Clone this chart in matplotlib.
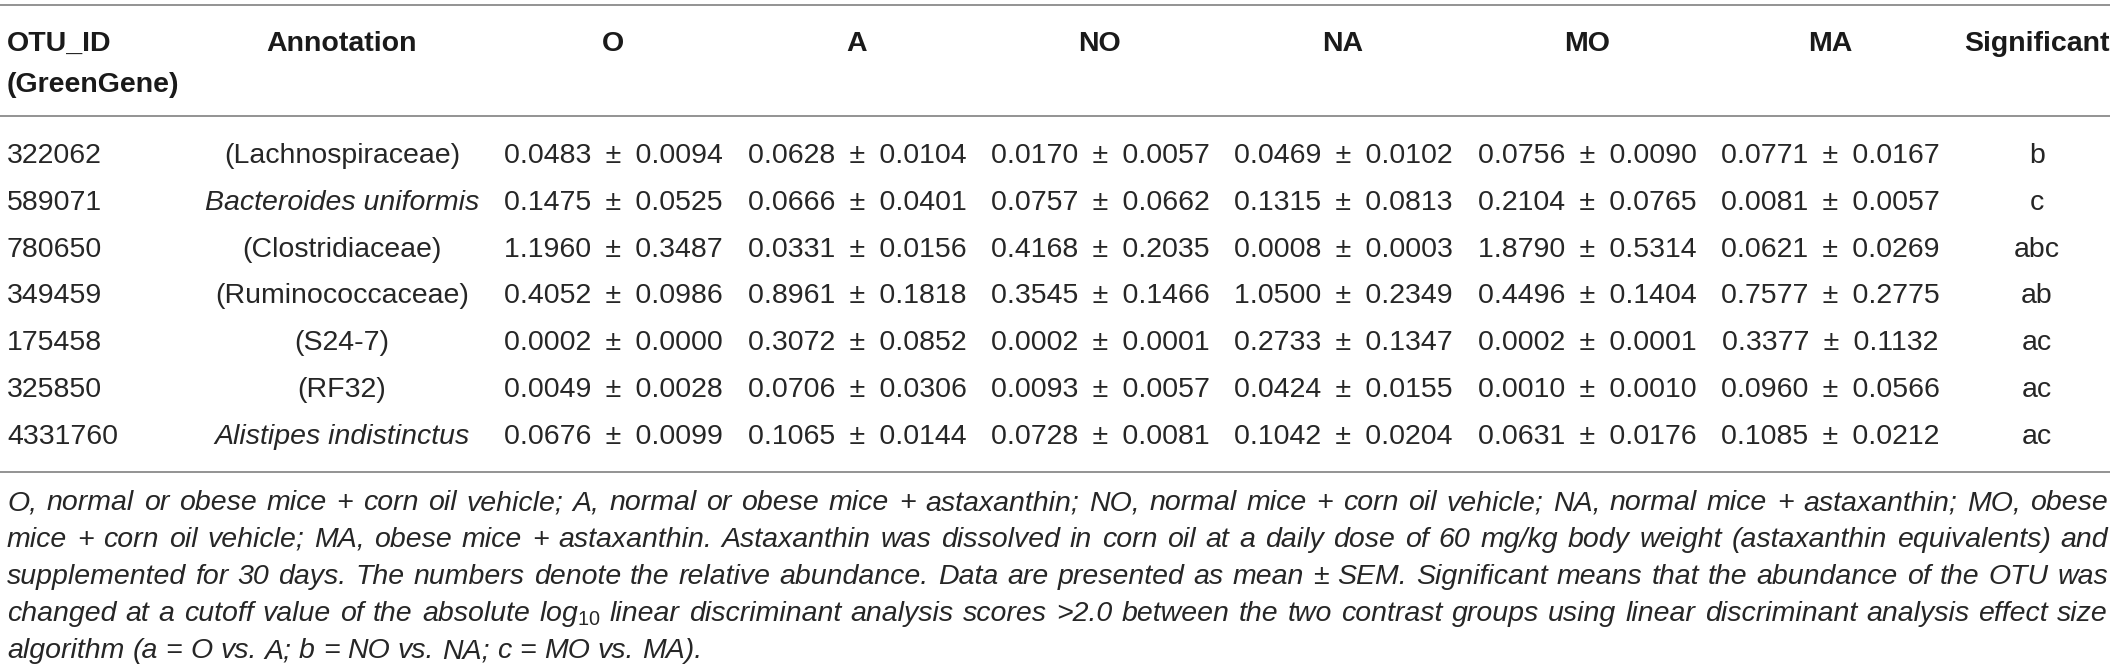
import matplotlib
matplotlib.use('Agg')
import matplotlib.pyplot as plt
from matplotlib.font_manager import FontProperties, findfont

# table data
otu_ids = ['322062', '589071', '780650', '349459', '175458', '325850', '4331760']
annotations = ['(Lachnospiraceae)', 'Bacteroides uniformis', '(Clostridiaceae)',
               '(Ruminococcaceae)', '(S24-7)', '(RF32)', 'Alistipes indistinctus']
annot_italic = [False, True, False, False, False, False, True]
groups = ['O', 'A', 'NO', 'NA', 'MO', 'MA']
o_mean = [0.0483, 0.1475, 1.1960, 0.4052, 0.0002, 0.0049, 0.0676]
o_sem = [0.0094, 0.0525, 0.3487, 0.0986, 0.0000, 0.0028, 0.0099]
a_mean = [0.0628, 0.0666, 0.0331, 0.8961, 0.3072, 0.0706, 0.1065]
a_sem = [0.0104, 0.0401, 0.0156, 0.1818, 0.0852, 0.0306, 0.0144]
no_mean = [0.0170, 0.0757, 0.4168, 0.3545, 0.0002, 0.0093, 0.0728]
no_sem = [0.0057, 0.0662, 0.2035, 0.1466, 0.0001, 0.0057, 0.0081]
na_mean = [0.0469, 0.1315, 0.0008, 1.0500, 0.2733, 0.0424, 0.1042]
na_sem = [0.0102, 0.0813, 0.0003, 0.2349, 0.1347, 0.0155, 0.0204]
mo_mean = [0.0756, 0.2104, 1.8790, 0.4496, 0.0002, 0.0010, 0.0631]
mo_sem = [0.0090, 0.0765, 0.5314, 0.1404, 0.0001, 0.0010, 0.0176]
ma_mean = [0.0771, 0.0081, 0.0621, 0.7577, 0.3377, 0.0960, 0.1085]
ma_sem = [0.0167, 0.0057, 0.0269, 0.2775, 0.1132, 0.0566, 0.0212]
significant = ['b', 'c', 'abc', 'ab', 'ac', 'ac', 'ac']

footnote = [
    "O, normal or obese mice + corn oil vehicle; A, normal or obese mice + astaxanthin; NO, normal mice + corn oil vehicle; NA, normal mice + astaxanthin; MO, obese",
    "mice + corn oil vehicle; MA, obese mice + astaxanthin. Astaxanthin was dissolved in corn oil at a daily dose of 60 mg/kg body weight (astaxanthin equivalents) and",
    "supplemented for 30 days. The numbers denote the relative abundance. Data are presented as mean \u00b1 SEM. Significant means that the abundance of the OTU was",
    "changed at a cutoff value of the absolute log$_{10}$ linear discriminant analysis scores >2.0 between the two contrast groups using linear discriminant analysis effect size",
    "algorithm (a = O vs. A; b = NO vs. NA; c = MO vs. MA).",
]

W, H = 2118, 669
BODY = ['Liberation Sans', 'DejaVu Sans']
try:
    findfont(FontProperties(family='Liberation Sans Narrow'), fallback_to_default=False)
    NOTE = ['Liberation Sans Narrow', 'Liberation Sans', 'DejaVu Sans']
except Exception:
    NOTE = BODY

plt.rcParams['mathtext.fontset'] = 'custom'
plt.rcParams['mathtext.rm'] = 'Liberation Sans'
plt.rcParams['mathtext.it'] = 'Liberation Sans:italic'

fig = plt.figure(figsize=(W / 100, H / 100), dpi=100)
ax = fig.add_axes([0, 0, 1, 1])
ax.set_xlim(0, W)
ax.set_ylim(H, 0)
ax.axis('off')

fs = 20.5
txt = '#262626'
line_col = '#8a8a8a'

# rules
for y in [5, 116, 472]:
    ax.plot([0, 2110], [y, y], color=line_col, lw=1.3, solid_capstyle='butt')

# headers
col_x = [613, 857, 1100, 1343, 1587, 1830]
sig_x = 2037
ax.text(7, 51, 'OTU_ID', fontsize=fs, fontweight='bold', color='#1a1a1a', family=BODY)
ax.text(7, 92, '(GreenGene)', fontsize=fs, fontweight='bold', color='#1a1a1a', family=BODY)
ax.text(342, 51, 'Annotation', fontsize=fs, fontweight='bold', color='#1a1a1a', ha='center', family=BODY)
for g, x in zip(groups, col_x):
    ax.text(x, 51, g, fontsize=fs, fontweight='bold', color='#1a1a1a', ha='center', family=BODY)
ax.text(sig_x, 51, 'Significant', fontsize=fs, fontweight='bold', color='#1a1a1a', ha='center', family=BODY)

# body rows
means = [o_mean, a_mean, no_mean, na_mean, mo_mean, ma_mean]
sems = [o_sem, a_sem, no_sem, na_sem, mo_sem, ma_sem]
for i in range(len(otu_ids)):
    yb = 163 + i * 46.8
    ax.text(7, yb, otu_ids[i], fontsize=fs, color=txt, family=BODY)
    ax.text(342, yb, annotations[i], fontsize=fs, color=txt, ha='center', family=BODY,
            style='italic' if annot_italic[i] else 'normal')
    for m, s, x in zip(means, sems, col_x):
        ax.text(x, yb, f'{m[i]:.4f}\u2002\u00b1\u2002{s[i]:.4f}', fontsize=fs, color=txt,
                ha='center', family=BODY)
    ax.text(sig_x, yb, significant[i], fontsize=fs, color=txt, ha='center', family=BODY)

# footnote, justified between left and right edge
renderer = fig.canvas.get_renderer()
x0, x1 = 7, 2108
note_base = [510, 547, 584, 621, 658]
for k, (line, yb) in enumerate(zip(footnote, note_base)):
    words = line.split(' ')
    items = [ax.text(0, yb, w, fontsize=fs, color=txt, style='italic', family=NOTE) for w in words]
    widths = [t.get_window_extent(renderer).width for t in items]
    sp = ax.text(0, yb, 'a a', fontsize=fs, style='italic', family=NOTE)
    spw = sp.get_window_extent(renderer).width - 2 * ax.text(0, yb, 'a', fontsize=fs, style='italic', family=NOTE).get_window_extent(renderer).width
    for t in ax.texts[-2:]:
        t.remove()
    if k < len(footnote) - 1:
        gap = (x1 - x0 - sum(widths)) / (len(words) - 1)
    else:
        gap = spw
    x = x0
    for t, w in zip(items, widths):
        t.set_x(x)
        x += w + gap

fig.savefig('out.png', dpi=100)
